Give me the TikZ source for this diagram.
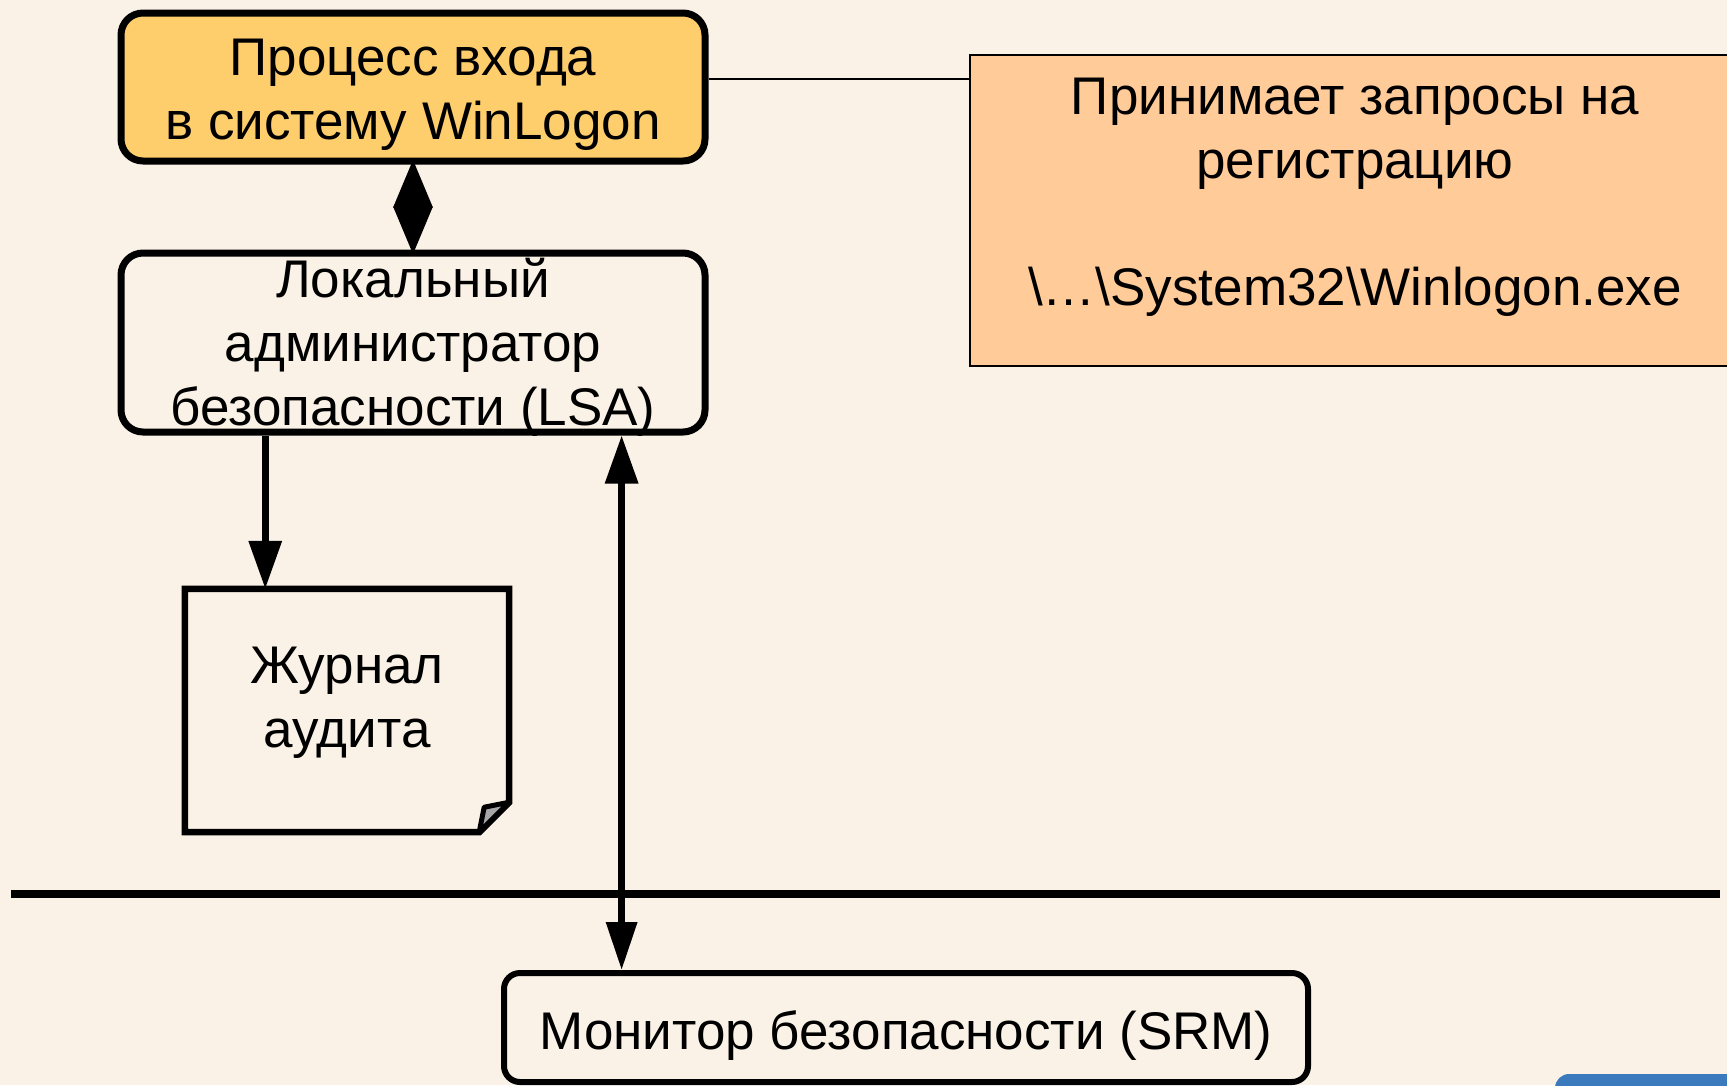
\documentclass[tikz,border=0pt]{standalone}
\usepackage{fontspec}
\setmainfont{Liberation Sans}
\usetikzlibrary{arrows.meta,calc}
\definecolor{bgcol}{HTML}{FAF2E6}
\definecolor{wincol}{HTML}{FECD6C}
\definecolor{callcol}{HTML}{FFCC99}
\definecolor{btncol}{HTML}{3B7ABD}
\begin{document}
\begin{tikzpicture}[x=1pt,y=-1pt,
  every node/.style={font=\fontsize{53}{64}\selectfont, align=center, inner sep=0pt},
  bigbox/.style={draw, line width=7pt, rounded corners=22pt, minimum width=584pt},
  conn/.style={line width=6.5pt},
  tipA/.style={{Triangle[length=48pt,width=38pt]}-{Triangle[length=48pt,width=38pt]}, shorten <=-5pt, shorten >=-5pt},
  tipB/.style={-{Triangle[length=48pt,width=32pt]}},
  tipC/.style={{Triangle[length=48pt,width=32pt]}-{Triangle[length=48pt,width=30pt]}}
]
\useasboundingbox (0,0) rectangle (1727,1085);
\clip (0,0) rectangle (1727,1085);
\fill[bgcol] (0,0) rectangle (1727,1085);

% callout box
\node[draw, line width=2pt, fill=callcol, minimum width=770pt, minimum height=311pt] (call) at (1355,210.5) {};
\node (calltext) at (1355,197) {Принимает запросы на\\регистрацию\\[63pt]\textbackslash{}…\textbackslash{}System32\textbackslash{}Winlogon.exe};

% WinLogon
\node[bigbox, fill=wincol, minimum height=148pt] (win) at (413,87) {};
\node (wintext) at (413,95) {Процесс входа\\в систему WinLogon};
\draw[line width=1.5pt] ([yshift=8pt]win.east) -- ([yshift=8pt]win.east -| call.west);

% LSA
\node[bigbox, minimum height=179pt] (lsa) at (413,342.5) {};
\node (lsatext) at (413,347) {Локальный\\администратор\\безопасности (LSA)};

\draw[conn, tipA] (win.south) -- (lsa.north);

% journal
\node[minimum width=324pt, minimum height=243pt] (jrn) at (347,710.5) {};
\draw[line width=6.5pt, line join=miter] (jrn.north west) -- (jrn.north east) -- ([yshift=30pt]jrn.south east) -- ([xshift=-30pt]jrn.south east) -- (jrn.south west) -- cycle;
\draw[line width=5pt, fill=gray!70, line join=round] ([xshift=-30pt]jrn.south east) -- ([xshift=-25pt,yshift=25pt]jrn.south east) -- ([yshift=30pt]jrn.south east) -- cycle;
\node (jrntext) at (347,703) {Журнал\\аудита};

\coordinate (lsaL) at ($(lsa.south west)!0.25!(lsa.south east)$);
\draw[conn, tipB] (lsaL) -- (lsaL |- jrn.north);

% separator line
\coordinate (sepL) at (11,894);
\coordinate (sepR) at (1720,894);
\draw[line width=8pt] (sepL) -- (sepR);

% SRM
\node[draw, line width=6pt, rounded corners=16pt, minimum width=804pt, minimum height=109pt] (srm) at (906,1027.5) {};
\node (srmtext) at (906,1036) {Монитор безопасности (SRM)};

\coordinate (lsaR) at ($(lsa.south west)!0.853!(lsa.south east)$);
\draw[conn, tipC] (lsaR) -- (lsaR |- srm.north);

% partial blue button at bottom right
\fill[btncol, rounded corners=14pt] (1555,1074) rectangle (1790,1130);
\end{tikzpicture}
\end{document}
